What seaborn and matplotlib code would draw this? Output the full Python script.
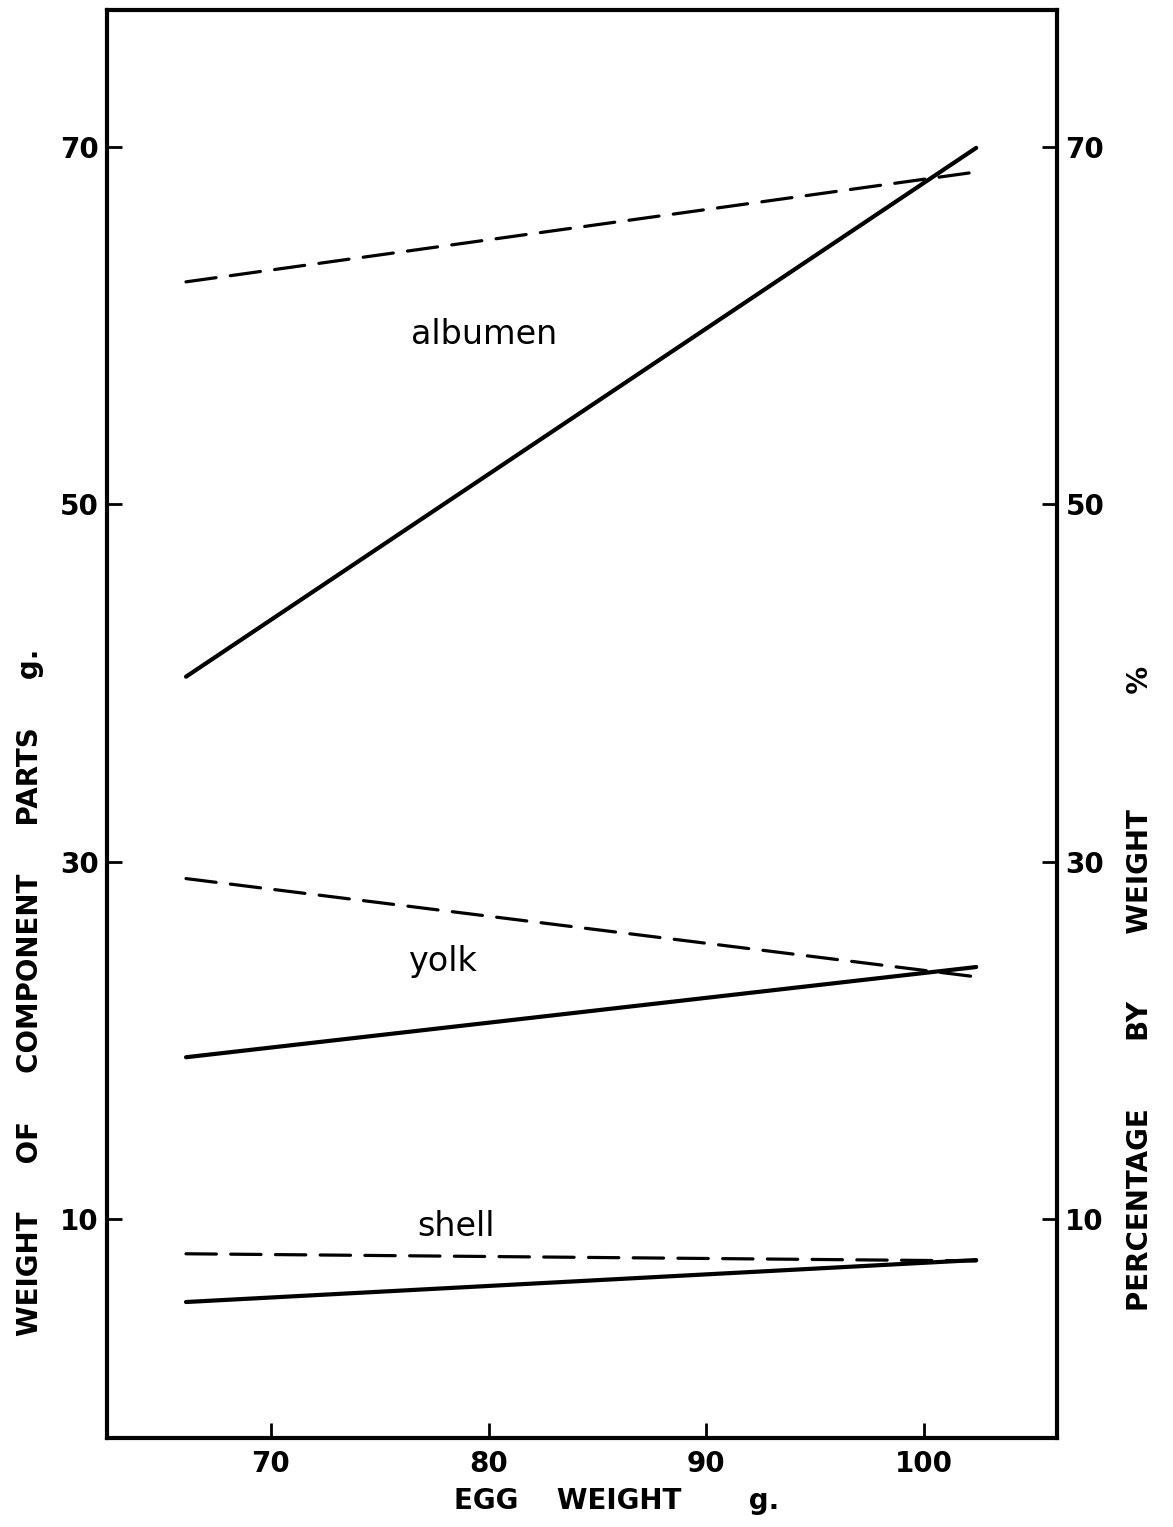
import numpy as np
import pandas as pd
import seaborn as sns
import matplotlib
matplotlib.use("Agg")
import matplotlib.pyplot as plt

# Egg weight range covered by the fitted lines (g)
egg_weight = [66.1, 102.4]

# Weight of component parts (g) -- solid lines
albumen_g = [40.35, 69.95]
yolk_g = [19.05, 24.1]
shell_g = [5.35, 7.7]

# Percentage by weight (%) -- dashed lines
albumen_pct = [62.45, 68.6]
yolk_pct = [29.05, 23.55]
shell_pct = [8.05, 7.65]

components = ["albumen", "yolk", "shell"]
weight_series = [albumen_g, yolk_g, shell_g]
pct_series = [albumen_pct, yolk_pct, shell_pct]

x_ticks = [70, 80, 90, 100]
y_ticks = [10, 30, 50, 70]

rows = []
for comp, w, p in zip(components, weight_series, pct_series):
    for x, v in zip(egg_weight, w):
        rows.append({"component": comp, "measure": "weight", "egg": x, "value": v})
    for x, v in zip(egg_weight, p):
        rows.append({"component": comp, "measure": "percent", "egg": x, "value": v})
df = pd.DataFrame(rows)

sns.set_theme(style="white")
plt.rcParams["font.family"] = ["DejaVu Sans"]
plt.rcParams["text.color"] = "black"
plt.rcParams["xtick.color"] = "black"
plt.rcParams["ytick.color"] = "black"
plt.rcParams["xtick.direction"] = "in"
plt.rcParams["ytick.direction"] = "in"

fig = plt.figure(figsize=(11.73, 15.27), dpi=100)
ax = fig.add_axes([0.0912, 0.0583, 0.8099, 0.9352])

sns.lineplot(data=df[df.measure == "weight"], x="egg", y="value", units="component",
             estimator=None, color="black", linewidth=3.0, legend=False, ax=ax)
sns.lineplot(data=df[df.measure == "percent"], x="egg", y="value", units="component",
             estimator=None, color="black", linewidth=2.3, legend=False, ax=ax)
for line in ax.lines[3:]:
    line.set_dashes((9.5, 4.5))
for line in ax.lines:
    line.set_solid_capstyle("round")
    line.set_dash_capstyle("round")

ax.set_xlim(62.47, 106.11)
ax.set_ylim(-2.26, 77.67)
ax.set_xticks(x_ticks)
ax.set_yticks(y_ticks)
ax.tick_params(axis="both", direction="in", length=11, width=2.0, color="black",
               labelcolor="black", labelsize=20,
               left=True, right=True, bottom=True, top=False,
               labelleft=True, labelright=True)
ax.tick_params(axis="y", pad=6)
ax.tick_params(axis="x", pad=9)
for tick in ax.yaxis.get_major_ticks():
    tick.label1.set_fontweight("bold")
    tick.label2.set_fontweight("bold")
for tick in ax.xaxis.get_major_ticks():
    tick.label1.set_fontweight("bold")

for s in ax.spines.values():
    s.set_color("black")
    s.set_linewidth(3.0)

ax.set_xlabel("")
ax.set_ylabel("")

label_kw = dict(fontsize=20, fontweight="bold", color="black")
fig.text(0.526, 0.017, "EGG    WEIGHT       g.", ha="center", va="center", **label_kw)
fig.text(0.026, 0.350, "WEIGHT     OF     COMPONENT     PARTS     g.", rotation=90,
         ha="center", va="center", **label_kw)
fig.text(0.972, 0.353, "PERCENTAGE       BY       WEIGHT            %", rotation=90,
         ha="center", va="center", **label_kw)

text_kw = dict(fontsize=24, color="black", ha="center", va="center")
ax.text(79.8, 59.5, "albumen", **text_kw)
ax.text(77.9, 24.4, "yolk", **text_kw)
ax.text(78.5, 9.6, "shell", **text_kw)

fig.savefig("out.png", dpi=100, facecolor="white")
